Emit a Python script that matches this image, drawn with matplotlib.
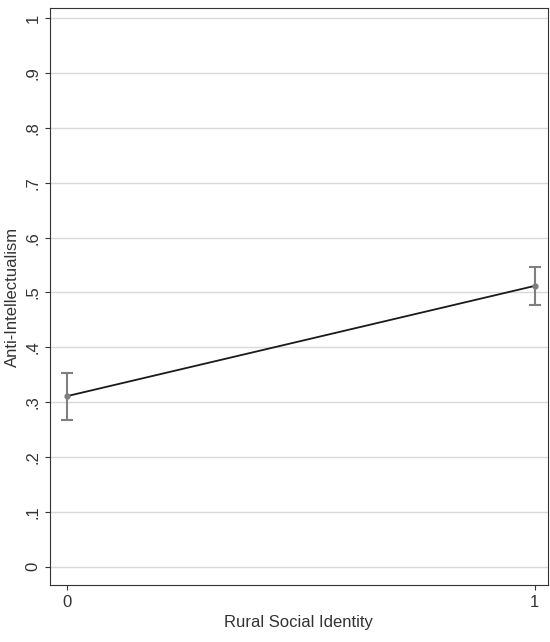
import matplotlib.pyplot as plt

x_vals = [0, 1]
y_vals = [0.311, 0.512]
ci_low = [0.267, 0.478]
ci_high = [0.353, 0.546]
y_ticks = [0, 0.1, 0.2, 0.3, 0.4, 0.5, 0.6, 0.7, 0.8, 0.9, 1.0]
y_labels = ["0", ".1", ".2", ".3", ".4", ".5", ".6", ".7", ".8", ".9", "1"]

plt.rcParams['font.family'] = ['Liberation Sans', 'DejaVu Sans']
fig = plt.figure(figsize=(5.5, 6.42), dpi=100)
ax = fig.add_axes([0.091, 0.089, 0.905, 0.898])

for t in y_ticks:
    ax.axhline(t, color='#d9d9d9', lw=1, zorder=0)

err = [[y - lo for y, lo in zip(y_vals, ci_low)], [hi - y for y, hi in zip(y_vals, ci_high)]]
ax.errorbar(x_vals, y_vals, yerr=err, fmt='none', ecolor='#7f7f7f', elinewidth=1.5, capsize=4, capthick=1.5)
ax.plot(x_vals, y_vals, color='#1a1a1a', lw=1.3, marker='o', ms=3.5, mfc='#7f7f7f', mec='#7f7f7f')

ax.set_xlim(-0.036, 1.028)
ax.set_ylim(-0.033, 1.018)
ax.set_xticks(x_vals)
ax.set_yticks(y_ticks)
ax.set_yticklabels(y_labels, rotation=90, va='center')
ax.tick_params(labelsize=12, color='#333333', labelcolor='#333333')
ax.set_xlabel('Rural Social Identity', fontsize=12, color='#333333')
ax.set_ylabel('Anti-Intellectualism', fontsize=12, color='#333333')
for s in ax.spines.values():
    s.set_color('#333333')

fig.savefig('out.png')
